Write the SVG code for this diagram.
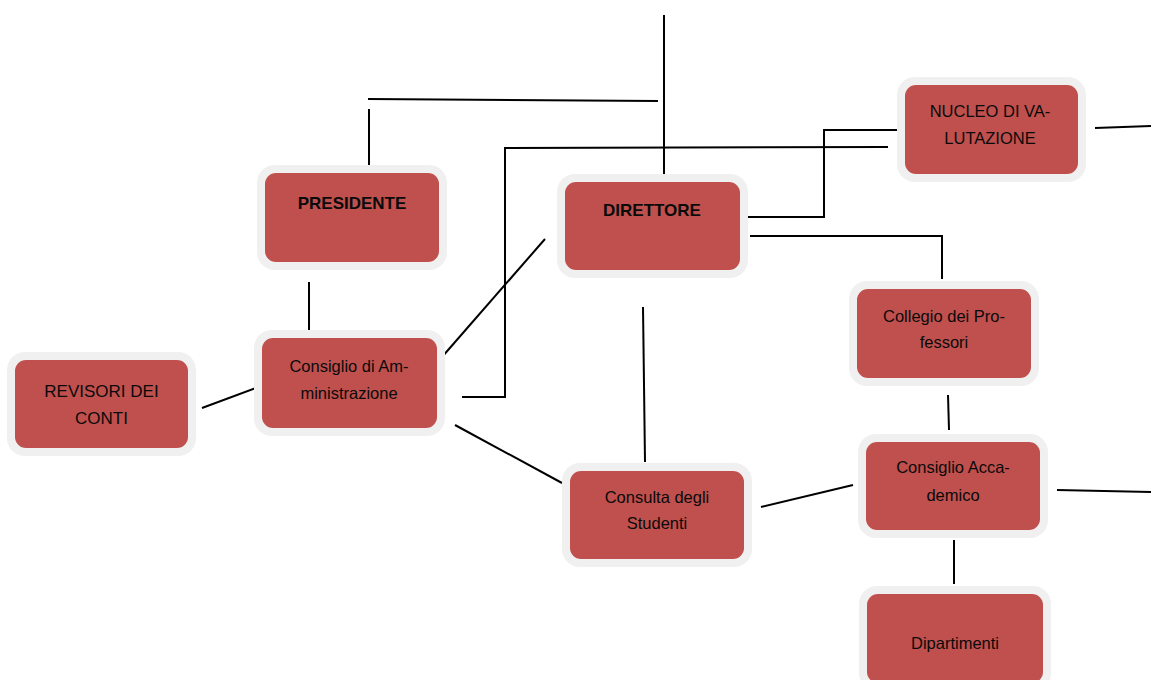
<svg xmlns="http://www.w3.org/2000/svg" width="1151" height="680" viewBox="0 0 1151 680">
<style>
.o{fill:#f0f0f0}
.i{fill:#c0504d}
.t{font-family:"Liberation Sans",Arial,sans-serif;font-size:16.5px;fill:#0a0a0a;text-anchor:middle}
.b{font-weight:bold;font-size:17px}
.c line,.c polyline{stroke:#000;stroke-width:2;fill:none}
</style>
<rect width="1151" height="680" fill="#fff"/>
<g class="c" id="connectors">
<line x1="664" y1="15" x2="664" y2="174"/>
<line x1="368" y1="99" x2="658" y2="101"/>
<line x1="369" y1="109" x2="369" y2="165"/>
<polyline points="462,397 505,397 505,148 888,147"/>
<polyline points="748,217 824,217 824,130 900,130"/>
<line x1="1095" y1="128" x2="1151" y2="126"/>
<polyline points="750,236 942,236 942,279"/>
<line x1="309" y1="282" x2="309" y2="336"/>
<line x1="442" y1="357" x2="545" y2="239"/>
<line x1="202" y1="408" x2="256" y2="388"/>
<line x1="455" y1="425" x2="562" y2="483"/>
<line x1="643" y1="307" x2="645" y2="462"/>
<line x1="761" y1="507" x2="853" y2="485"/>
<line x1="948" y1="395" x2="949" y2="430"/>
<line x1="1057" y1="490" x2="1151" y2="492"/>
<line x1="954" y1="540" x2="954" y2="584"/>
</g>
<g id="presidente">
<rect class="o" x="257" y="165" width="190" height="105" rx="18"/>
<rect class="i" x="265" y="173" width="174" height="89" rx="11"/>
<text class="t b" x="352" y="209">PRESIDENTE</text>
</g>
<g id="direttore">
<rect class="o" x="557" y="174" width="191" height="104" rx="18"/>
<rect class="i" x="565" y="182" width="175" height="88" rx="11"/>
<text class="t b" x="652" y="216">DIRETTORE</text>
</g>
<g id="nucleo">
<rect class="o" x="897" y="77" width="189" height="105" rx="18"/>
<rect class="i" x="905" y="85" width="173" height="89" rx="11"/>
<text class="t" x="990" y="117">NUCLEO DI VA-</text>
<text class="t" x="990" y="144">LUTAZIONE</text>
</g>
<g id="revisori">
<rect class="o" x="7" y="352" width="189" height="104" rx="18"/>
<rect class="i" x="15" y="360" width="173" height="88" rx="11"/>
<text class="t" x="101.5" y="397" style="font-size:17px">REVISORI DEI</text>
<text class="t" x="101.5" y="424" style="font-size:17px">CONTI</text>
</g>
<g id="consiglio-amministrazione">
<rect class="o" x="254" y="330" width="191" height="106" rx="18"/>
<rect class="i" x="262" y="338" width="175" height="90" rx="11"/>
<text class="t" x="349" y="372">Consiglio di Am-</text>
<text class="t" x="349" y="399">ministrazione</text>
</g>
<g id="consulta">
<rect class="o" x="562" y="463" width="190" height="104" rx="18"/>
<rect class="i" x="570" y="471" width="174" height="88" rx="11"/>
<text class="t" x="657" y="503">Consulta degli</text>
<text class="t" x="657" y="529">Studenti</text>
</g>
<g id="consiglio-accademico">
<rect class="o" x="858" y="434" width="190" height="104" rx="18"/>
<rect class="i" x="866" y="442" width="174" height="88" rx="11"/>
<text class="t" x="953" y="473">Consiglio Acca-</text>
<text class="t" x="953" y="501">demico</text>
</g>
<g id="collegio">
<rect class="o" x="849" y="281" width="190" height="105" rx="18"/>
<rect class="i" x="857" y="289" width="174" height="89" rx="11"/>
<text class="t" x="944" y="322">Collegio dei Pro-</text>
<text class="t" x="944" y="348">fessori</text>
</g>
<g id="dipartimenti">
<rect class="o" x="859" y="586" width="192" height="105" rx="18"/>
<rect class="i" x="867" y="594" width="176" height="89" rx="11"/>
<text class="t" x="955" y="649">Dipartimenti</text>
</g>
</svg>
